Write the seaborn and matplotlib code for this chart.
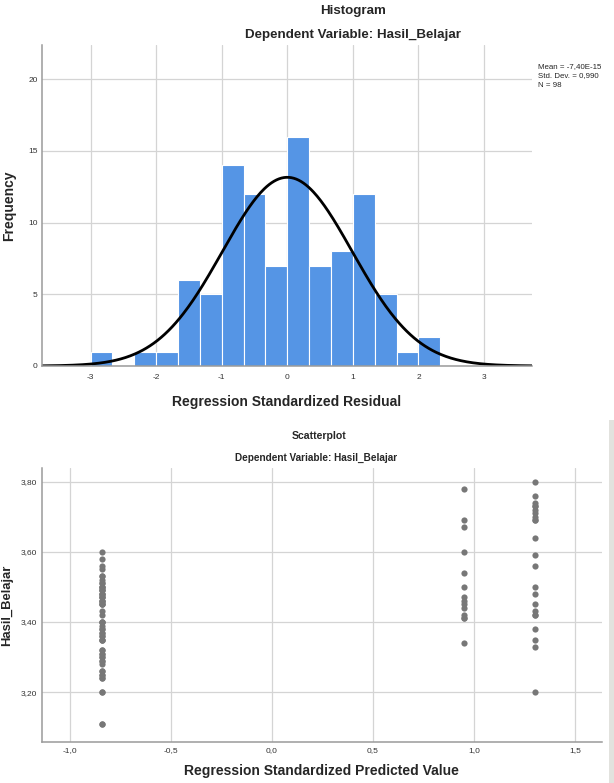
import numpy as np
import pandas as pd
import matplotlib
matplotlib.use("Agg")
import matplotlib.pyplot as plt
import seaborn as sns

# --- Histogram data (regression standardized residuals, bin counts) ---
BIN_WIDTH = 1 / 3
BIN_START = -3.0
hist_counts = [1, 0, 1, 1, 6, 5, 14, 12, 7, 16, 7, 8, 12, 5, 1, 2]
resid_mean = -7.40e-15
resid_sd = 0.990
n_obs = 98

# --- Scatter data (predicted value groups vs Hasil_Belajar) ---
pred_low = -0.84
pred_mid = 0.95
pred_high = 1.30
y_low = [3.60, 3.58, 3.56, 3.55, 3.53, 3.53, 3.52, 3.51, 3.51, 3.50, 3.50,
         3.50, 3.49, 3.49, 3.49, 3.48, 3.48, 3.48, 3.47, 3.47, 3.47, 3.46,
         3.46, 3.46, 3.45, 3.45, 3.45, 3.43, 3.42, 3.40, 3.40, 3.40, 3.39,
         3.38, 3.38, 3.37, 3.37, 3.36, 3.36, 3.35, 3.35, 3.35, 3.32, 3.32,
         3.31, 3.31, 3.30, 3.30, 3.29, 3.29, 3.28, 3.26, 3.26, 3.25, 3.25,
         3.24, 3.24, 3.20, 3.20, 3.11, 3.11]
y_mid = [3.78, 3.69, 3.67, 3.60, 3.54, 3.50, 3.47, 3.46, 3.45, 3.44,
         3.42, 3.41, 3.41, 3.34]
y_high = [3.80, 3.76, 3.74, 3.73, 3.73, 3.72, 3.71, 3.70, 3.69, 3.69,
          3.64, 3.59, 3.56, 3.50, 3.48, 3.45, 3.43, 3.42, 3.42, 3.38,
          3.35, 3.33, 3.20]

hist_xticks = [-3, -2, -1, 0, 1, 2, 3]
hist_yticks = [0, 5, 10, 15, 20]
scat_xticks = [-1.0, -0.5, 0.0, 0.5, 1.0, 1.5]
scat_yticks = [3.20, 3.40, 3.60, 3.80]

BAR_COLOR = "#5595E5"
GRID_COLOR = "#d4d4d4"
SPINE_COLOR = "#9a9a9a"
POINT_COLOR = "#777777"

sns.set_style("white")
plt.rcParams["font.family"] = ["Liberation Sans", "DejaVu Sans"]
plt.rcParams["axes.unicode_minus"] = False

fig = plt.figure(figsize=(6.14, 7.83), dpi=100)


def style_axes(ax):
    ax.grid(True, color=GRID_COLOR, linewidth=0.9)
    ax.set_axisbelow(True)
    for side in ["top", "right"]:
        ax.spines[side].set_visible(False)
    for side in ["left", "bottom"]:
        ax.spines[side].set_color(SPINE_COLOR)
        ax.spines[side].set_linewidth(1.1)
    ax.tick_params(length=0, labelsize=6, colors="#333333")


# ---------- Histogram ----------
ax1 = fig.add_axes([0.0684, 0.5326, 0.798, 0.41])
n_bins = len(hist_counts)
bin_lefts = BIN_START + BIN_WIDTH * np.arange(n_bins)
hist_df = pd.DataFrame({
    "resid": bin_lefts + BIN_WIDTH / 2,
    "count": hist_counts,
})
sns.histplot(data=hist_df, x="resid", weights="count", binwidth=BIN_WIDTH,
             binrange=(BIN_START, BIN_START + n_bins * BIN_WIDTH),
             color=BAR_COLOR, edgecolor="white", linewidth=0.8, alpha=1, ax=ax1)

# fitted normal curve scaled to counts
x_lo, x_hi = -3.74, 3.73
xs = np.linspace(x_lo, x_hi, 400)
pdf = np.exp(-0.5 * ((xs - resid_mean) / resid_sd) ** 2) / (resid_sd * np.sqrt(2 * np.pi))
sns.lineplot(x=xs, y=n_obs * BIN_WIDTH * pdf, color="black", linewidth=2.0, ax=ax1)

ax1.set_xlim(x_lo, x_hi)
ax1.set_ylim(0, 22.4)
ax1.set_xticks(hist_xticks)
ax1.set_xticklabels([str(t) for t in hist_xticks])
ax1.set_yticks(hist_yticks)
style_axes(ax1)
ax1.tick_params(axis="x", pad=6)
ax1.tick_params(axis="y", pad=3)
ax1.set_xlabel("Regression Standardized Residual", fontsize=10,
               fontweight="bold", labelpad=10)
ax1.set_ylabel("Frequency", fontsize=10, fontweight="bold", labelpad=9)

fig.text(0.575, 0.986, "Histogram", ha="center", va="center",
         fontsize=9.6, fontweight="bold")
fig.text(0.575, 0.9553, "Dependent Variable: Hasil_Belajar", ha="center",
         va="center", fontsize=9.6, fontweight="bold")
mean_txt = f"{resid_mean:.2E}".replace(".", ",")
sd_txt = f"{resid_sd:.3f}".replace(".", ",")
fig.text(0.876, 0.9195,
         f"Mean = {mean_txt}\nStd. Dev. = {sd_txt}\nN = {n_obs}",
         ha="left", va="top", fontsize=5.7, linespacing=1.5)

# ---------- Scatterplot ----------
ax2 = fig.add_axes([0.0679, 0.0524, 0.9125, 0.3499])
scat_df = pd.DataFrame({
    "pred": [pred_low] * len(y_low) + [pred_mid] * len(y_mid) + [pred_high] * len(y_high),
    "hasil": y_low + y_mid + y_high,
})
sns.scatterplot(data=scat_df, x="pred", y="hasil", color=POINT_COLOR, s=20,
                linewidth=0, ax=ax2)
ax2.set_xlim(-1.14, 1.634)
ax2.set_ylim(3.058, 3.839)
ax2.set_xticks(scat_xticks)
ax2.set_xticklabels([f"{t:.1f}".replace(".", ",") for t in scat_xticks])
ax2.set_yticks(scat_yticks)
ax2.set_yticklabels([f"{t:.2f}".replace(".", ",") for t in scat_yticks])
style_axes(ax2)
ax2.tick_params(axis="x", pad=4)
ax2.tick_params(axis="y", pad=3)
ax2.set_xlabel("Regression Standardized Predicted Value", fontsize=10,
               fontweight="bold", labelpad=7)
ax2.set_ylabel("Hasil_Belajar", fontsize=9.4, fontweight="bold", labelpad=6)

fig.text(0.52, 0.4432, "Scatterplot", ha="center", va="center",
         fontsize=7.6, fontweight="bold")
fig.text(0.515, 0.415, "Dependent Variable: Hasil_Belajar", ha="center",
         va="center", fontsize=7.2, fontweight="bold")

# grey strip on the right edge of the lower panel
fig.patches.append(plt.Rectangle((609 / 614, 0), 5 / 614, 363 / 783,
                                 transform=fig.transFigure,
                                 facecolor="#e2e2de", edgecolor="none"))

fig.savefig("out.png", dpi=100)
